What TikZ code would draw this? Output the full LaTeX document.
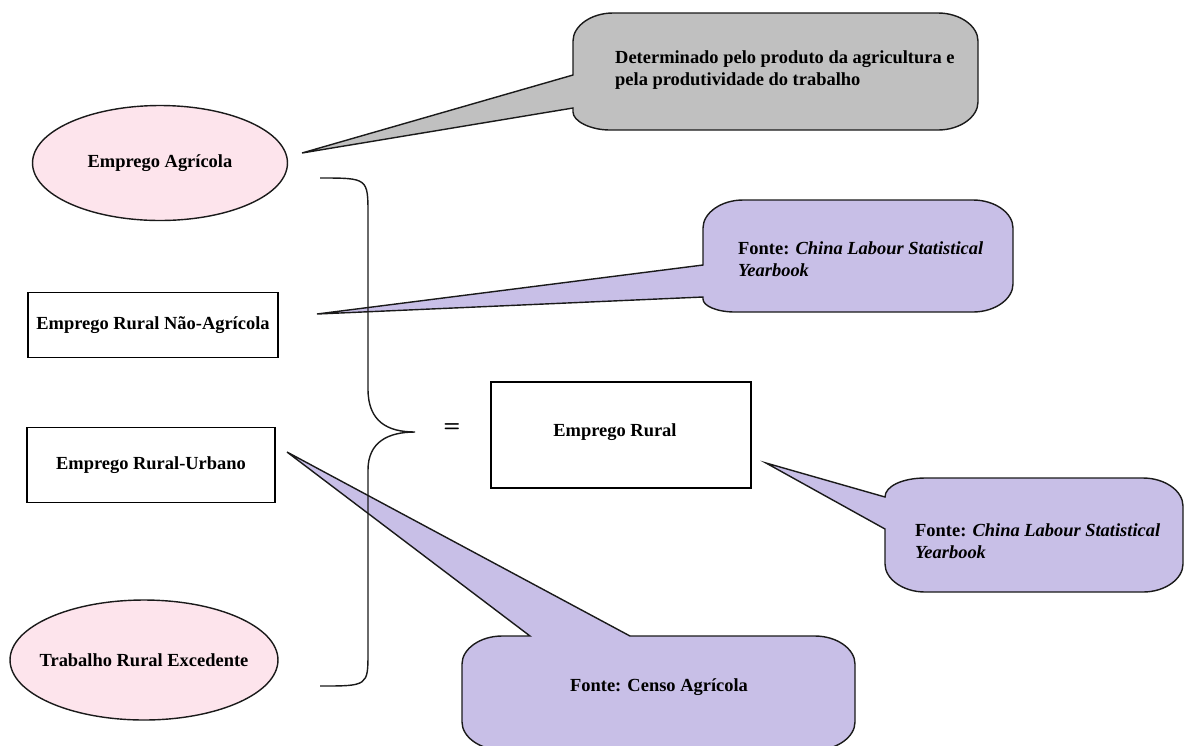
\documentclass[tikz,border=0pt]{standalone}
\usepackage{fontspec}
\setmainfont{Liberation Serif}
\usepackage{xcolor}
\usepackage{tikz}
\usetikzlibrary{shapes.geometric}
\definecolor{pinkfill}{HTML}{FDE4EC}
\definecolor{grayfill}{HTML}{C0C0C0}
\definecolor{lilac}{HTML}{C8BFE7}
\definecolor{ink}{HTML}{1A1A1A}
\tikzset{
  oval/.style={ellipse, draw=ink, line width=0.8pt, fill=pinkfill, inner sep=0pt},
  rbox/.style={rectangle, draw=black, line width=1.1pt, inner sep=0pt},
  bubgray/.style={draw=ink, line width=0.8pt, fill=grayfill},
  bubblue/.style={draw=ink, line width=0.8pt, fill=lilac},
  lab/.style={font=\fontsize{10.5}{12.6}\selectfont\bfseries, text=black},
  brace/.style={draw=ink, line width=0.8pt},
}

\begin{document}
\begin{tikzpicture}[x=0.02cm, y=-0.02cm]
  \clip (0,0) rectangle (1186,745);

  % left column
  \node[oval, minimum width=5.1cm, minimum height=2.3cm] (agri) at (160,163) {};
  \node[lab] (agritxt) at (agri.center) {Emprego Agrícola};
  \node[rbox, minimum width=5.0cm, minimum height=1.3cm] (nagri) at (153,325) {};
  \node[lab] (nagritxt) at (nagri.center) {Emprego Rural Não-Agrícola};
  \node[rbox, minimum width=4.96cm, minimum height=1.5cm] (rurb) at (151,465) {};
  \node[lab] (rurbtxt) at (rurb.center) {Emprego Rural-Urbano};
  \node[oval, minimum width=5.36cm, minimum height=2.4cm] (excd) at (144,660) {};
  \node[lab] (excdtxt) at (excd.center) {Trabalho Rural Excedente};

  % result
  \node[font=\fontsize{11}{13}\sffamily\bfseries] (eq) at (452,428) {=};
  \node[rbox, minimum width=5.2cm, minimum height=2.12cm] (rural) at (621,435) {};
  \node[lab] (ruraltxt) at (615,432) {Emprego Rural};

  % pointer tips
  \coordinate (tipA) at (302,153);   % towards Emprego Agricola
  \coordinate (tipB) at (317,314);   % towards Nao-Agricola
  \coordinate (tipC) at (766,463);   % towards Emprego Rural
  \coordinate (tipD) at (287,452);   % towards Rural-Urbano

  % callouts
  \draw[bubgray] (tipA) -- (573,75) -- (573,41)
    .. controls (573,26) and (591,13) .. (613,13) -- (938,13)
    .. controls (960,13) and (978,26) .. (978,41) -- (978,102)
    .. controls (978,117) and (960,130) .. (938,130) -- (610,130)
    .. controls (590,130) and (573,121) .. (573,112) -- (573,108) -- cycle;
  \draw[bubblue] (tipB) -- (703,265) -- (703,228)
    .. controls (703,213) and (721,200) .. (743,200) -- (973,200)
    .. controls (995,200) and (1013,213) .. (1013,228) -- (1013,284)
    .. controls (1013,299) and (995,312) .. (973,312) -- (735,312)
    .. controls (717,312) and (703,306) .. (703,299) -- (703,297) -- cycle;
  \draw[bubblue] (tipC) -- (885,497)
    .. controls (885,486) and (903,478) .. (925,478) -- (1143,478)
    .. controls (1165,478) and (1183,491) .. (1183,506) -- (1183,564)
    .. controls (1183,579) and (1165,592) .. (1143,592) -- (925,592)
    .. controls (903,592) and (885,579) .. (885,564) -- (885,529) -- cycle;
  \draw[bubblue] (tipD) -- (630,636) -- (815,636)
    .. controls (837,636) and (855,649) .. (855,664) -- (855,722)
    .. controls (855,737) and (837,750) .. (815,750) -- (502,750)
    .. controls (480,750) and (462,737) .. (462,722) -- (462,664)
    .. controls (462,649) and (480,636) .. (502,636) -- (530,636) -- cycle;

  \node[lab, anchor=west, align=left] (noteA) at (609,70)
    {Determinado pelo produto da agricultura e\\pela produtividade do trabalho};
  \node[lab, anchor=west, align=left] (noteB) at (732,259)
    {Fonte: \textit{China Labour Statistical}\\\textit{Yearbook}};
  \node[lab, anchor=west, align=left] (noteC) at (909,541)
    {Fonte: \textit{China Labour Statistical}\\\textit{Yearbook}};
  \node[lab] (noteD) at (659,687) {Fonte: Censo Agrícola};

  % brace
  \draw[brace] (320,178) .. controls (368,178) .. (368,215) -- (368,389)
    .. controls (368,422) and (388,432) .. (415,432)
    .. controls (388,432) and (368,442) .. (368,470) -- (368,652)
    .. controls (368,686) .. (320,686);
\end{tikzpicture}
\end{document}
